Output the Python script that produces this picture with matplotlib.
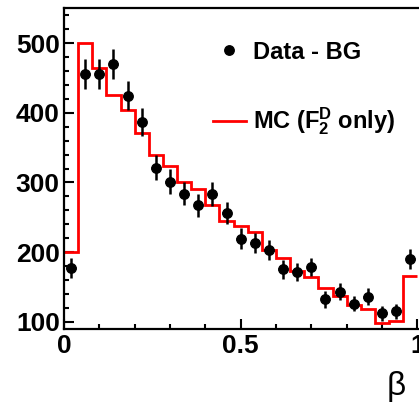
import matplotlib
matplotlib.use('Agg')
import matplotlib.pyplot as plt
from matplotlib.ticker import MultipleLocator
from matplotlib.lines import Line2D
import numpy as np

# ---- data ----
bin_edges = [0.00, 0.04, 0.08, 0.12, 0.16, 0.20, 0.24, 0.28, 0.32, 0.36, 0.40,
             0.44, 0.48, 0.52, 0.56, 0.60, 0.64, 0.68, 0.72, 0.76, 0.80,
             0.84, 0.88, 0.92, 0.96, 1.00]
data_bg = [177, 456, 456, 470, 425, 387, 321, 301, 284, 267, 283, 256, 219,
           213, 203, 175, 171, 178, 132, 143, 126, 136, 112, 115, 190]
data_err = [14, 22, 22, 22, 21, 20, 18, 18, 17, 17, 17, 16, 15,
            15, 14, 13, 13, 13, 12, 12, 11, 12, 11, 11, 14]
mc_f2d = [200, 500, 464, 426, 404, 371, 340, 323, 301, 291, 268, 244, 237,
          229, 203, 191, 173, 164, 148, 137, 124, 118, 98, 101, 166]
xtick_vals = [0, 0.5, 1]
xtick_labels = ['0', '0.5', '1']
ytick_vals = [100, 200, 300, 400, 500]
ytick_labels = ['100', '200', '300', '400', '500']

plt.rcParams['font.family'] = ['Liberation Sans', 'DejaVu Sans']
plt.rcParams['mathtext.fontset'] = 'custom'
plt.rcParams['mathtext.rm'] = 'Liberation Sans:bold'
plt.rcParams['mathtext.bf'] = 'Liberation Sans:bold'
plt.rcParams['mathtext.it'] = 'Liberation Sans:bold'
plt.rcParams['mathtext.default'] = 'bf'

W, H = 419, 411
fig = plt.figure(figsize=(W / 100, H / 100), dpi=100)
px_per_unit = 353.3
ax = fig.add_axes([64 / W, (H - 329) / H, 1.05 * px_per_unit / W, (329 - 8.3) / H])

edges = np.array(bin_edges)
centers = 0.5 * (edges[:-1] + edges[1:])

ax.stairs(mc_f2d, edges, baseline=None, color='#ff0000', lw=2.0, zorder=2)
ax.errorbar(centers, data_bg, yerr=data_err, xerr=0.013, fmt='o', color='black',
            ms=6.8, elinewidth=1.8, capsize=0, zorder=3)

ax.set_xlim(0, 1.05)
ax.set_ylim(89.5, 550.3)

ax.set_xticks(xtick_vals)
ax.set_xticklabels(xtick_labels)
ax.set_yticks(ytick_vals)
ax.set_yticklabels(ytick_labels)
ax.xaxis.set_minor_locator(MultipleLocator(0.1))
ax.yaxis.set_minor_locator(MultipleLocator(20))
ax.tick_params(which='both', direction='in', width=1.5, top=False, right=False)
ax.tick_params(which='major', length=7.2)
ax.tick_params(which='minor', length=3.6)
ax.tick_params(axis='x', pad=3.5)
ax.tick_params(axis='y', pad=3)
for lab in ax.get_xticklabels() + ax.get_yticklabels():
    lab.set_fontsize(19)
    lab.set_fontweight('bold')
for s in ax.spines.values():
    s.set_linewidth(1.6)

# legend (manual)
fig.add_artist(Line2D([229 / W], [1 - 50 / H], marker='o', color='black', ms=6.8,
                      transform=fig.transFigure))
fig.text(253 / W, 1 - 59 / H, 'Data - BG', fontsize=17, fontweight='bold', va='baseline')
fig.add_artist(Line2D([213 / W, 246 / W], [1 - 121 / H, 1 - 121 / H], color='#ff0000',
                      lw=2.0, transform=fig.transFigure))
fig.text(253 / W, 1 - 128 / H, r'MC (F$_{2}^{D}$ only)', fontsize=17, fontweight='bold',
         va='baseline')

fig.text(396 / W, 1 - 386 / H, 'β', fontsize=24, ha='center', va='center')

fig.savefig('out.png', dpi=100)
